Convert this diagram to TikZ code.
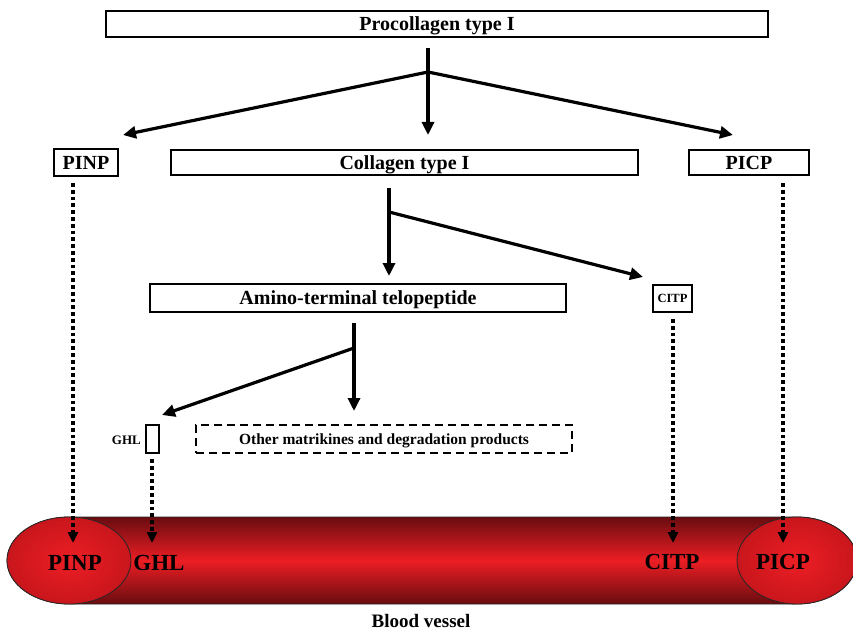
\documentclass[tikz,border=0pt]{standalone}
\usepackage{fontspec}
\setmainfont{Liberation Serif}
\usetikzlibrary{arrows.meta,calc}
\definecolor{vred}{RGB}{236,30,36}
\definecolor{vdark}{RGB}{105,12,16}
\definecolor{vmid}{RGB}{200,22,28}
\begin{document}
\begin{tikzpicture}[x=1pt,y=-1pt,
  box/.style={draw,line width=1.9pt,fill=white,inner sep=0pt,text depth=0pt,font=\bfseries\fontsize{20}{24}\selectfont},
  smallbox/.style={draw,line width=1.7pt,fill=white,inner sep=0pt,text depth=0pt,font=\bfseries\fontsize{12.5}{15}\selectfont},
  arr/.style={line width=3.2pt,-{Triangle[length=13pt,width=12pt]}},
  dots/.style={line width=3.8pt,dash pattern=on 3.8pt off 3pt,-{Triangle[length=11pt,width=10pt]}},
  vlab/.style={font=\bfseries\fontsize{23}{27}\selectfont,inner sep=0pt},
  outl/.style={line width=0.8pt,draw=black!85}]
\useasboundingbox (0,0) rectangle (853,631);

% boxes
\node[box,minimum width=662pt,minimum height=26pt] (proc) at (437,24) {Procollagen type I};
\node[box,minimum width=64pt,minimum height=27pt] (pinp) at (86,162.5) {PINP};
\node[box,minimum width=467pt,minimum height=25pt] (coll) at (404.5,162.5) {Collagen type I};
\node[box,minimum width=120pt,minimum height=25pt] (picp) at (749,162.5) {PICP};
\node[box,minimum width=416pt,minimum height=28pt] (amino) at (358,298) {Amino-terminal telopeptide};
\node[smallbox,minimum width=39pt,minimum height=27pt] (citp) at (672.5,298.5) {CITP};
\node[draw,line width=1.7pt,fill=white,inner sep=0pt,minimum width=13pt,minimum height=28pt] (ghlbox) at (152.5,439) {};
\node[font=\bfseries\fontsize{13}{15}\selectfont,inner sep=0pt,anchor=east] (ghl) at (141,440) {GHL};
\node[draw,dash pattern=on 8pt off 5pt,line width=1.7pt,fill=white,inner sep=0pt,minimum width=376pt,minimum height=28pt,
      text depth=0pt,font=\bfseries\fontsize{15.5}{18}\selectfont] (other) at (384,439) {Other matrikines and degradation products};

% blood vessel
\shade[top color=vdark,bottom color=vdark,middle color=vred]
  (69,517) -- (797,517) arc[start angle=-90,end angle=90,x radius=60,y radius=43.5]
  -- (69,604) arc[start angle=90,end angle=270,x radius=62,y radius=43.5] -- cycle;
\draw[outl]
  (69,517) -- (797,517) arc[start angle=-90,end angle=90,x radius=60,y radius=43.5]
  -- (69,604) arc[start angle=90,end angle=270,x radius=62,y radius=43.5] -- cycle;
\shade[inner color=vred,outer color=vmid] (69,560.5) ellipse[x radius=62,y radius=43.5];
\draw[outl] (69,560.5) ellipse[x radius=62,y radius=43.5];
\shade[inner color=vred,outer color=vmid] (797,560.5) ellipse[x radius=60,y radius=43.5];
\draw[outl] (797,560.5) ellipse[x radius=60,y radius=43.5];

\node[vlab] (vpinp) at (75,563) {PINP};
\node[vlab] (vghl) at (159,563) {GHL};
\node[vlab] (vcitp) at (672,562) {CITP};
\node[vlab] (vpicp) at (783,562) {PICP};
\node[font=\bfseries\fontsize{19}{22}\selectfont,inner sep=0pt,anchor=base] (bv) at (421,627.5) {Blood vessel};

% procollagen split
\coordinate (p0) at (428,48);
\coordinate (pj) at (428,72);
\coordinate (pm) at (428,135);
\coordinate (pl) at (123,135);
\coordinate (pr) at (733,135);
\draw[arr] (p0) -- (pm);
\draw[arr] (pj) -- (pl);
\draw[arr] (pj) -- (pr);

% collagen split
\coordinate (c0) at (389,188);
\coordinate (cj) at (389,212);
\coordinate (cm) at (389,276);
\coordinate (cr) at (643,277);
\draw[arr] (c0) -- (cm);
\draw[arr] (cj) -- (cr);

% amino split
\coordinate (a0) at (354,323);
\coordinate (aj) at (354,348);
\coordinate (am) at (354,411);
\coordinate (al) at (162,415);
\draw[arr] (a0) -- (am);
\draw[arr] (aj) -- (al);

% dotted to vessel
\coordinate (d1s) at (73,183);   \coordinate (d1e) at (73,543);
\coordinate (d2s) at (152,459);  \coordinate (d2e) at (152,543);
\coordinate (d3s) at (673,319);  \coordinate (d3e) at (673,543);
\coordinate (d4s) at (783,183);  \coordinate (d4e) at (783,543);
\draw[dots] (d1s) -- (d1e);
\draw[dots] (d2s) -- (d2e);
\draw[dots] (d3s) -- (d3e);
\draw[dots] (d4s) -- (d4e);
\end{tikzpicture}
\end{document}
